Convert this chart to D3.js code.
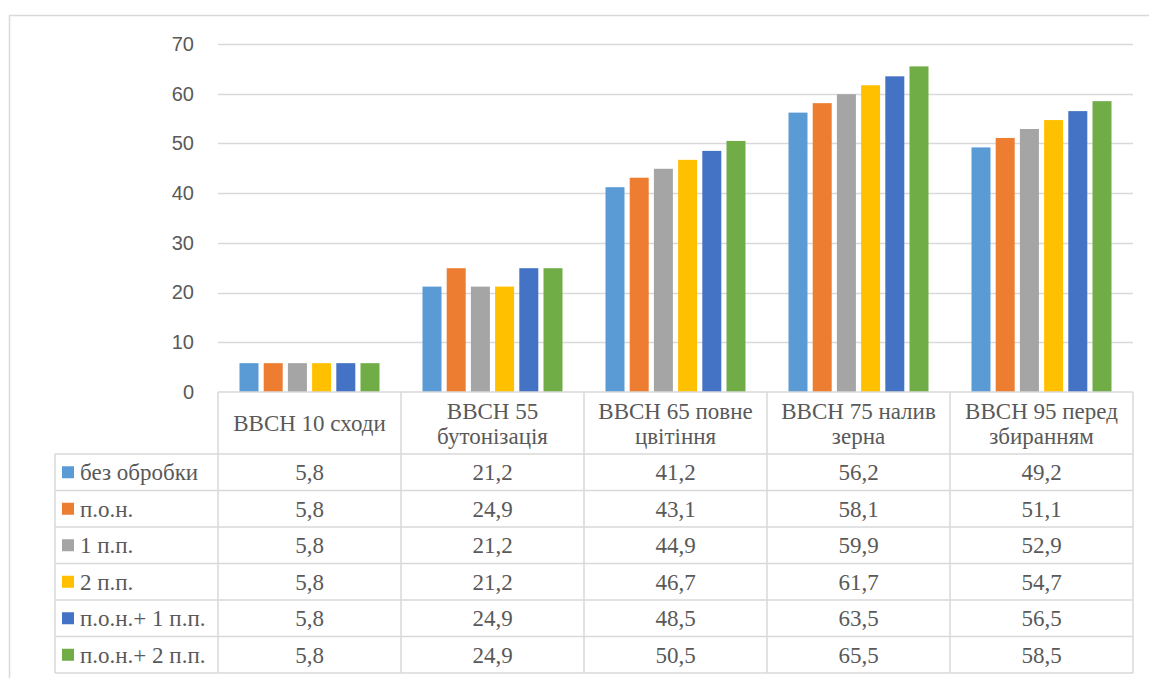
<!DOCTYPE html>
<html>
<head>
<meta charset="utf-8">
<script src="https://cdn.jsdelivr.net/npm/d3@7"></script>
<style>
  body { margin: 0; background: #fff; }
  svg { display: block; }
</style>
</head>
<body>
<div id="chart"></div>
<script>
// stages (x categories)
var categories = ["BBCH 10 сходи", "BBCH 55 бутонізація", "BBCH 65 повне цвітіння", "BBCH 75 налив зерна", "BBCH 95 перед збиранням"];
var categoryLines = [["BBCH 10 сходи"], ["BBCH 55", "бутонізація"], ["BBCH 65 повне", "цвітіння"], ["BBCH 75 налив", "зерна"], ["BBCH 95 перед", "збиранням"]];

var seriesNames = ["без обробки", "п.о.н.", "1 п.п.", "2 п.п.", "п.о.н.+ 1 п.п.", "п.о.н.+ 2 п.п."];
var seriesColors = ["#5B9BD5", "#ED7D31", "#A5A5A5", "#FFC000", "#4472C4", "#70AD47"];

var bezObrobky = [5.8, 21.2, 41.2, 56.2, 49.2];
var pon        = [5.8, 24.9, 43.1, 58.1, 51.1];
var pp1        = [5.8, 21.2, 44.9, 59.9, 52.9];
var pp2        = [5.8, 21.2, 46.7, 61.7, 54.7];
var ponPp1     = [5.8, 24.9, 48.5, 63.5, 56.5];
var ponPp2     = [5.8, 24.9, 50.5, 65.5, 58.5];
var seriesValues = [bezObrobky, pon, pp1, pp2, ponPp1, ponPp2];

var yTicks = [0, 10, 20, 30, 40, 50, 60, 70];

var width = 1149, height = 678;
var plotLeft = 218, plotRight = 1133, plotTop = 44, plotBottom = 392;
var tableLeft = 55, headerBottom = 454, rowH = 36.5;
var gridColor = "#d9d9d9";
var textColor = "#595959";

var svg = d3.select("#chart").append("svg")
    .attr("width", width)
    .attr("height", height)
    .attr("font-family", "Liberation Serif");

// outer chart border
svg.append("path")
    .attr("d", "M9.5," + height + "V15.5H" + (width + 5))
    .attr("fill", "none")
    .attr("stroke", gridColor)
    .attr("stroke-width", 1.5);

var x0 = d3.scaleBand().domain(categories).range([plotLeft, plotRight]).padding(0);
var clusterPad = 21.5;
var x1 = d3.scaleBand().domain(seriesNames)
    .range([clusterPad, x0.bandwidth() - clusterPad])
    .paddingInner(0.215).paddingOuter(0);
var y = d3.scaleLinear().domain([0, 70]).range([plotBottom, plotTop]);

// gridlines
svg.append("g").selectAll("line")
    .data(yTicks.filter(function(d) { return d > 0; }))
    .enter().append("line")
    .attr("x1", plotLeft).attr("x2", plotRight)
    .attr("y1", function(d) { return Math.round(y(d)) + 0.5; })
    .attr("y2", function(d) { return Math.round(y(d)) + 0.5; })
    .attr("stroke", gridColor)
    .attr("stroke-width", 1.5);

// y axis labels
var yAxis = d3.axisLeft(y).tickValues(yTicks).tickSize(0).tickPadding(24);
var gy = svg.append("g").attr("transform", "translate(" + plotLeft + ",0)").call(yAxis)
    .attr("font-family", "Liberation Sans").attr("font-size", 20);
gy.select(".domain").remove();
gy.selectAll("text").attr("fill", textColor);

// bars
var groups = svg.append("g").selectAll("g")
    .data(categories)
    .enter().append("g")
    .attr("transform", function(d) { return "translate(" + x0(d) + ",0)"; });

groups.selectAll("rect")
    .data(function(c, ci) {
        return seriesNames.map(function(s, si) { return { s: s, i: si, v: seriesValues[si][ci] }; });
    })
    .enter().append("rect")
    .attr("x", function(d) { return x1(d.s); })
    .attr("y", function(d) { return y(d.v); })
    .attr("width", x1.bandwidth())
    .attr("height", function(d) { return y(0) - y(d.v); })
    .attr("fill", function(d) { return seriesColors[d.i]; });

// data table
var tableBottom = headerBottom + rowH * seriesNames.length;
var tbl = svg.append("g").attr("stroke", gridColor).attr("stroke-width", 1.5);
tbl.append("line").attr("x1", plotLeft).attr("x2", plotRight).attr("y1", plotBottom).attr("y2", plotBottom);
d3.range(seriesNames.length + 1).forEach(function(r) {
    var yy = headerBottom + r * rowH;
    tbl.append("line").attr("x1", tableLeft).attr("x2", plotRight).attr("y1", yy).attr("y2", yy);
});
tbl.append("line").attr("x1", tableLeft).attr("x2", tableLeft).attr("y1", headerBottom).attr("y2", tableBottom);
categories.forEach(function(c) {
    tbl.append("line").attr("x1", x0(c)).attr("x2", x0(c)).attr("y1", plotBottom).attr("y2", tableBottom);
});
tbl.append("line").attr("x1", plotRight).attr("x2", plotRight).attr("y1", plotBottom).attr("y2", tableBottom);

function addText(x, yy, anchor, t) {
    return svg.append("text")
        .attr("x", x)
        .attr("y", yy)
        .attr("dy", "0.35em")
        .attr("text-anchor", anchor)
        .attr("fill", textColor)
        .attr("font-family", "Liberation Serif")
        .attr("font-size", 23)
        .text(t);
}

// header labels
categories.forEach(function(c, ci) {
    var lines = categoryLines[ci];
    var cy = (plotBottom + headerBottom) / 2;
    var lh = 25;
    lines.forEach(function(t, li) {
        addText(x0(c) + x0.bandwidth() / 2, cy + (li - (lines.length - 1) / 2) * lh, "middle", t);
    });
});

// rows: legend keys + values
seriesNames.forEach(function(s, si) {
    var cy = headerBottom + si * rowH + rowH / 2;
    svg.append("rect")
        .attr("x", 62).attr("y", cy - 6)
        .attr("width", 12).attr("height", 12)
        .attr("fill", seriesColors[si]);
    addText(80, cy, "start", s);
    categories.forEach(function(c, ci) {
        addText(x0(c) + x0.bandwidth() / 2, cy, "middle", String(seriesValues[si][ci]).replace(".", ","));
    });
});
</script>
</body>
</html>
